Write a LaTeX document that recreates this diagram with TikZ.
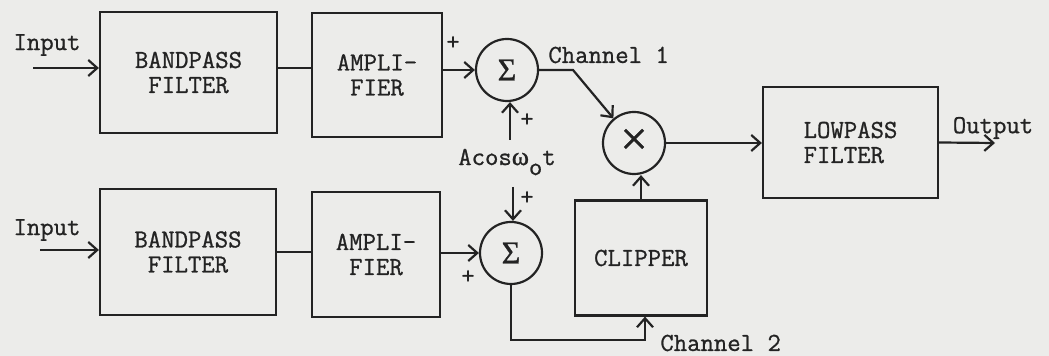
\documentclass[tikz,border=0pt]{standalone}
\usepackage{fontspec}
\newfontfamily\tw{Latin Modern Mono}[FakeBold=0.9]
\newfontfamily\sigfont{Liberation Serif}[FakeBold=1]
\usetikzlibrary{arrows.meta,calc}
\definecolor{paper}{RGB}{236,236,234}
\definecolor{ink}{RGB}{35,35,35}
\begin{document}
\begin{tikzpicture}[x=0.5pt,y=-0.5pt,
  every node/.style={text=ink,font=\tw\fontsize{13}{12.5}\selectfont},
  blk/.style={draw=ink,line width=1.1pt,inner sep=0pt,align=center},
  sumc/.style={circle,draw=ink,line width=1.1pt,minimum size=31pt,inner sep=0pt},
  lbl/.style={inner sep=0pt},
  pl/.style={inner sep=0pt,font=\tw\fontsize{13}{13}\selectfont},
  wire/.style={draw=ink,line width=1.1pt},
  arr/.style={wire,-{Straight Barb[length=4.5pt,width=8pt,line width=1.1pt]}}]
\fill[paper] (0,0) rectangle (1049,356);
\useasboundingbox (0,0) rectangle (1049,356);
% blocks
\node[blk,minimum width=88.5pt,minimum height=60.5pt] (bpf1) at (188.5,72.5) {BANDPASS\\FILTER};
\node[blk,minimum width=65pt,minimum height=62pt] (amp1) at (377,75) {AMPLI-\\FIER};
\node[sumc] (s1) at (507,70) {\sigfont\fontsize{16}{16}\selectfont Σ};
\node[sumc] (mult) at (634,143) {\sigfont\fontsize{24}{24}\selectfont\raisebox{1pt}{×}};
\node[blk,minimum width=87.5pt,minimum height=55.5pt,align=left] (lpf) at (850.5,142.5) {LOWPASS\\FILTER};
\node[blk,minimum width=88pt,minimum height=63pt] (bpf2) at (188,252) {BANDPASS\\FILTER};
\node[blk,minimum width=64pt,minimum height=62.5pt] (amp2) at (376,254.5) {AMPLI-\\FIER};
\node[sumc] (s2) at (511,253) {\sigfont\fontsize{16}{16}\selectfont Σ};
\node[blk,minimum width=66pt,minimum height=57.5pt] (clip) at (641,258) {CLIPPER};
% labels
\node[lbl] (in1) at (47,45) {Input};
\node[lbl] (in2) at (47,230) {Input};
\node[pl] (p1) at (453,43) {+};
\node[pl] (p2) at (527,120) {+};
\node[pl] (p3) at (527,198) {+};
\node[pl] (p4) at (468,277) {+};
\node[lbl] (acos) at (507,162) {Acos{\sigfont ω}\raisebox{-5pt}{o}t};
\node[lbl,anchor=west] (ch1) at (548,55) {Channel 1};
\node[lbl,anchor=west] (ch2) at (660,343) {Channel 2};
\node[lbl] (out) at (993,128) {Output};
% connectors
\coordinate (i1) at (33,68);
\coordinate (i2) at (40,250);
\coordinate (a1) at (510,140);
\coordinate (a2) at (513,187);
\coordinate (k1) at (573,70);
\coordinate (k2) at (645,340);
\coordinate (o1) at (995,143);
\draw[arr] (i1) -- (i1 -| bpf1.west);
\draw[wire] (bpf1.east |- i1) -- (amp1.west |- i1);
\draw[arr] (amp1.east |- s1) -- (s1.west);
\draw[arr] (a1) -- (a1 |- s1.south);
\draw[arr] (s1.east) -- (k1) -- (mult);
\draw[arr] (mult.east) -- (lpf.west |- mult.east);
\draw[arr] (lpf.east) -- (o1);
\draw[arr] (i2) -- (i2 -| bpf2.west);
\draw[wire] (bpf2.east) -- (bpf2.east -| amp2.west);
\draw[arr] (amp2.east |- s2) -- (s2.west);
\draw[arr] (a2) -- (a2 |- s2.north);
\draw[arr] (s2.south) |- (k2) -- (k2 |- clip.south);
\draw[arr] (clip.north) -- (clip.north |- mult.south);
\end{tikzpicture}
\end{document}
